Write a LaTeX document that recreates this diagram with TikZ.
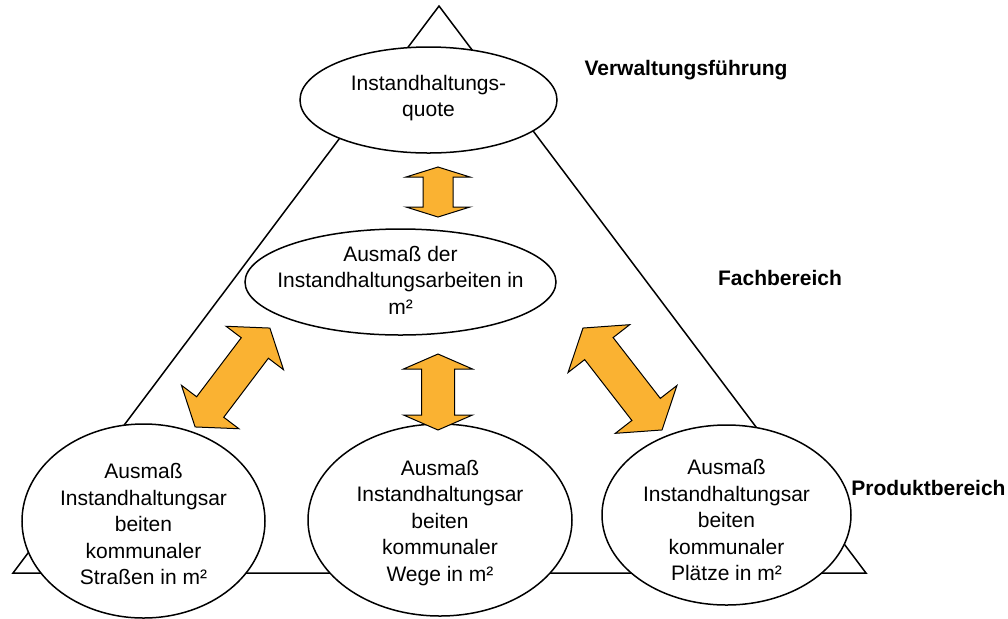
\documentclass[tikz,border=0pt]{standalone}
\usepackage{fontspec}
\setmainfont{Liberation Sans}
\usepackage{tikz}
\usetikzlibrary{shapes.geometric, calc}
\definecolor{arrowOrange}{RGB}{250, 178, 50}
\tikzset{
  levelnode/.style={
    ellipse, draw=black, fill=white,
    line width=0.75pt, inner sep=0pt
  },
  leveltext/.style={
    align=center, inner sep=0pt,
    font=\fontsize{10.5}{13.25}\selectfont
  },
  levellabel/.style={
    font=\fontsize{10.5}{13.25}\selectfont\bfseries
  },
  arrowfill/.style={
    fill=arrowOrange, draw=black, line width=0.5pt, line join=miter
  },
  pics/dblarrow/.style n args={4}{code={
    \filldraw[arrowfill] (-#1,0) -- (-#1+#2,#3) -- (-#1+#2,#4) -- (#1-#2,#4)
      -- (#1-#2,#3) -- (#1,0) -- (#1-#2,-#3) -- (#1-#2,-#4)
      -- (-#1+#2,-#4) -- (-#1+#2,-#3) -- cycle;
  }}
}
\begin{document}
\begin{tikzpicture}[x=0.5pt, y=-0.5pt]

  \useasboundingbox (0,0) rectangle (1008,618);

  % ── Pyramid ───────────────────────────────────────────────────────────────
  \draw[line width=0.75pt] (439,6) -- (866,573) -- (13,573) -- cycle;

  % ── Ellipses ──────────────────────────────────────────────────────────────
  \node[levelnode, minimum width=128.5pt, minimum height=53pt] (quote) at (428.5,100) {};
  \node[levelnode, minimum width=155.5pt, minimum height=53pt] (arbeiten) at (400.5,282) {};
  \node[levelnode, minimum width=121.5pt, minimum height=97pt] (strassen) at (143.5,521) {};
  \node[levelnode, minimum width=132pt, minimum height=96pt] (wege) at (440,520) {};
  \node[levelnode, minimum width=124.5pt, minimum height=90pt] (plaetze) at (726.5,515) {};

  % ── Ellipse texts ─────────────────────────────────────────────────────────
  \node[leveltext] (quotetext) at ($(quote)+(0,-2)$) {Instandhaltungs-\\quote};
  \node[leveltext] (arbeitentext) at ($(arbeiten)+(0,-2)$)
    {Ausmaß der\\Instandhaltungsarbeiten in\\m²};
  \node[leveltext] (strassentext) at ($(strassen)+(0,3)$)
    {Ausmaß\\Instandhaltungsar\\beiten\\kommunaler\\Straßen in m²};
  \node[leveltext] (wegetext) at ($(wege)+(0,3)$)
    {Ausmaß\\Instandhaltungsar\\beiten\\kommunaler\\Wege in m²};
  \node[leveltext] (plaetzetext) at ($(plaetze)+(0,5)$)
    {Ausmaß\\Instandhaltungsar\\beiten\\kommunaler\\Plätze in m²};

  % ── Level labels ──────────────────────────────────────────────────────────
  \node[levellabel] (lblverw) at (686,70) {Verwaltungsführung};
  \node[levellabel] (lblfach) at (780,278) {Fachbereich};
  \node[levellabel] (lblprod) at (928.5,488) {Produktbereich};

  % ── Block arrows ──────────────────────────────────────────────────────────
  \pic[rotate=90] at (438,192) {dblarrow={25}{10}{32}{15}};
  \pic[rotate=90] at (438,392) {dblarrow={38}{15}{34.5}{16.5}};
  \pic[rotate=52.9] at (232.5,377.5) {dblarrow={62}{25}{36}{17}};
  \pic[rotate=-52.2] at (622.5,379) {dblarrow={64.5}{26}{39}{18}};

\end{tikzpicture}
\end{document}
